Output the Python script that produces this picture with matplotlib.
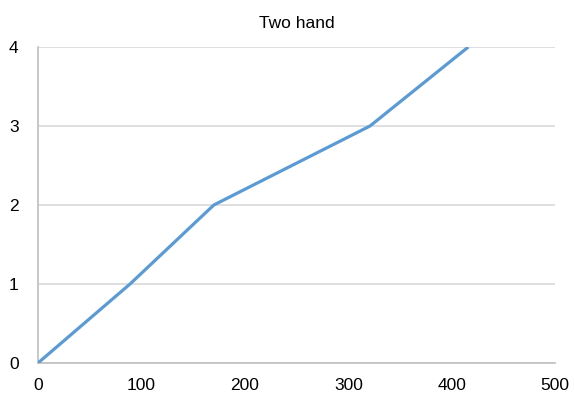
import matplotlib.pyplot as plt
from matplotlib import font_manager

names = {f.name for f in font_manager.fontManager.ttflist}
fam = 'Liberation Sans Narrow' if 'Liberation Sans Narrow' in names else 'Liberation Sans'
plt.rcParams['font.family'] = [fam, 'DejaVu Sans']

x = [0, 89, 170, 321, 416]
y = [0, 1, 2, 3, 4]

fig = plt.figure(figsize=(5.74, 4.01), dpi=100)
ax = fig.add_axes([0.0662, 0.0948, 0.901, 0.788])
ax.plot(x, y, color='#5B9BD5', linewidth=2.3, solid_capstyle='butt', clip_on=True, zorder=3)

ax.set_xlim(0, 500)
ax.set_ylim(0, 4)
ax.set_xticks([0, 100, 200, 300, 400, 500])
ax.set_yticks([0, 1, 2, 3, 4])
ax.yaxis.grid(True, color='#D9D9D9', linewidth=1.2)
ax.set_axisbelow(True)
for s in ['top', 'right']:
    ax.spines[s].set_visible(False)
ax.spines['left'].set_color('#BFBFBF')
ax.spines['bottom'].set_color('#BFBFBF')
ax.spines['left'].set_linewidth(1.2)
ax.spines['bottom'].set_linewidth(1.2)
ax.tick_params(axis='both', length=0, labelsize=12.5, colors='black')
ax.tick_params(axis='y', pad=14)
ax.tick_params(axis='x', pad=11)
ax.set_title('Two hand', fontsize=12.5, pad=14)

fig.savefig('out.png', dpi=100)
